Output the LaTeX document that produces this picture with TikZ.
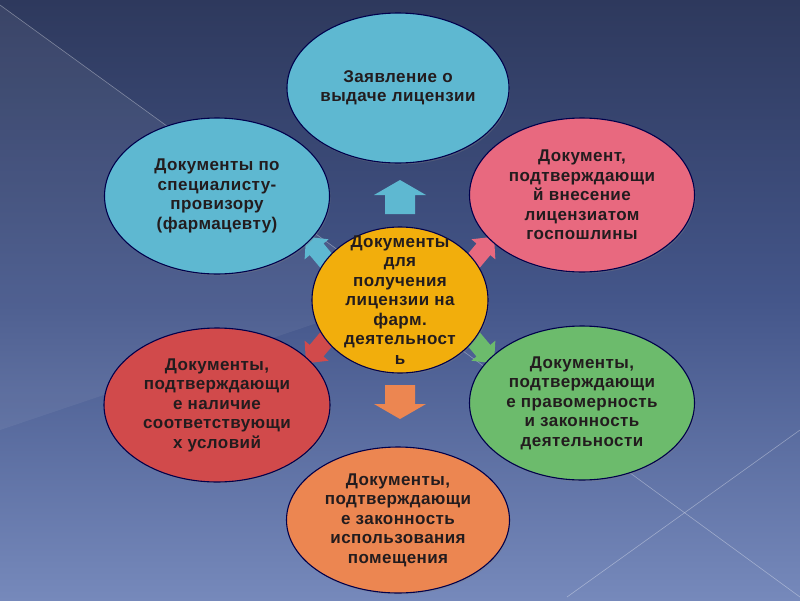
\documentclass[tikz,border=0pt]{standalone}
\usepackage{fontspec}
\setmainfont{Liberation Sans}
\usetikzlibrary{shapes.geometric,shadows}

\definecolor{bgtop}{HTML}{2E395D}
\definecolor{bgmid}{HTML}{44568A}
\definecolor{bgbot}{HTML}{7689BB}
\definecolor{skyblob}{HTML}{5EB8D1}
\definecolor{roseblob}{HTML}{E8697F}
\definecolor{sunblob}{HTML}{F2AE0C}
\definecolor{redblob}{HTML}{D14A4B}
\definecolor{greenblob}{HTML}{6CBB6C}
\definecolor{orangeblob}{HTML}{EC8651}
\definecolor{inktext}{HTML}{231C1E}

% block arrow: colour, centre, angle, xscale, yscale
\newcommand{\fatarrow}[5]{%
  \fill[#1, shift={#2}, rotate=#3, xscale=#4, yscale=#5]
    (-17,-15) -- (2,-15) -- (2,-26) -- (17,0) -- (2,26) -- (2,15) -- (-17,15) -- cycle;}

\tikzset{
  blob/.style={ellipse, inner sep=0pt, draw=black!70!blue, line width=1.1pt,
    drop shadow={shadow xshift=1pt, shadow yshift=-1.5pt, opacity=0.35}},
  blobtext/.style={align=center, text=inktext,
    font=\fontsize{17}{19.5}\selectfont\bfseries\addfontfeature{LetterSpace=2.5}}
}

\begin{document}
\begin{tikzpicture}[x=1pt, y=-1pt]
\useasboundingbox (0,0) rectangle (800,600);
\shade[top color=bgtop, bottom color=bgbot, middle color=bgmid] (0,0) rectangle (800,600);
\fill[white, opacity=0.06] (0,5) -- (400,295) -- (0,430) -- cycle;
\draw[white, opacity=0.35, line width=0.6pt] (0,5) -- (400,295);
\draw[white, opacity=0.35, line width=0.6pt] (400,305) -- (800,597);
\draw[white, opacity=0.35, line width=0.6pt] (800,430) -- (567,597);

\fatarrow{skyblob}{(400,197)}{90}{1}{1}
\fatarrow{orangeblob}{(400,402)}{-90}{1}{1}
\fatarrow{skyblob}{(318,251)}{130}{1.1}{0.6}
\fatarrow{roseblob}{(482,251)}{50}{1.1}{0.6}
\fatarrow{redblob}{(318,349)}{230}{1.1}{0.6}
\fatarrow{greenblob}{(482,349)}{310}{1.1}{0.6}

\node[blob, fill=skyblob, minimum width=222pt, minimum height=150pt] (zayav) at (398,88) {};
\node[blob, fill=skyblob, minimum width=225pt, minimum height=156pt] (spec) at (217,196) {};
\node[blob, fill=roseblob, minimum width=225pt, minimum height=154pt] (poshl) at (582,195) {};
\node[blob, fill=redblob, minimum width=226pt, minimum height=154pt] (uslov) at (217,405) {};
\node[blob, fill=greenblob, minimum width=225pt, minimum height=154pt] (zakon) at (582,403) {};
\node[blob, fill=orangeblob, minimum width=223pt, minimum height=146pt] (pomesh) at (398,520) {};
\node[blob, fill=sunblob, minimum width=176pt, minimum height=146pt] (docs) at (400,300) {};

\node[blobtext] (zayavT) at (zayav) {Заявление о\\выдаче лицензии};
\node[blobtext] (specT) at (spec) {Документы по\\специалисту-\\провизору\\(фармацевту)};
\node[blobtext] (poshlT) at (poshl) {Документ,\\подтверждающи\\й внесение\\лицензиатом\\госпошлины};
\node[blobtext] (uslovT) at (uslov) {Документы,\\подтверждающи\\е наличие\\соответствующи\\х условий};
\node[blobtext] (zakonT) at (zakon) {Документы,\\подтверждающи\\е правомерность\\и законность\\деятельности};
\node[blobtext] (pomeshT) at (pomesh) {Документы,\\подтверждающи\\е законность\\использования\\помещения};
\node[blobtext] (docsT) at (docs) {Документы\\для\\получения\\лицензии на\\фарм.\\деятельност\\ь};
\end{tikzpicture}
\end{document}
